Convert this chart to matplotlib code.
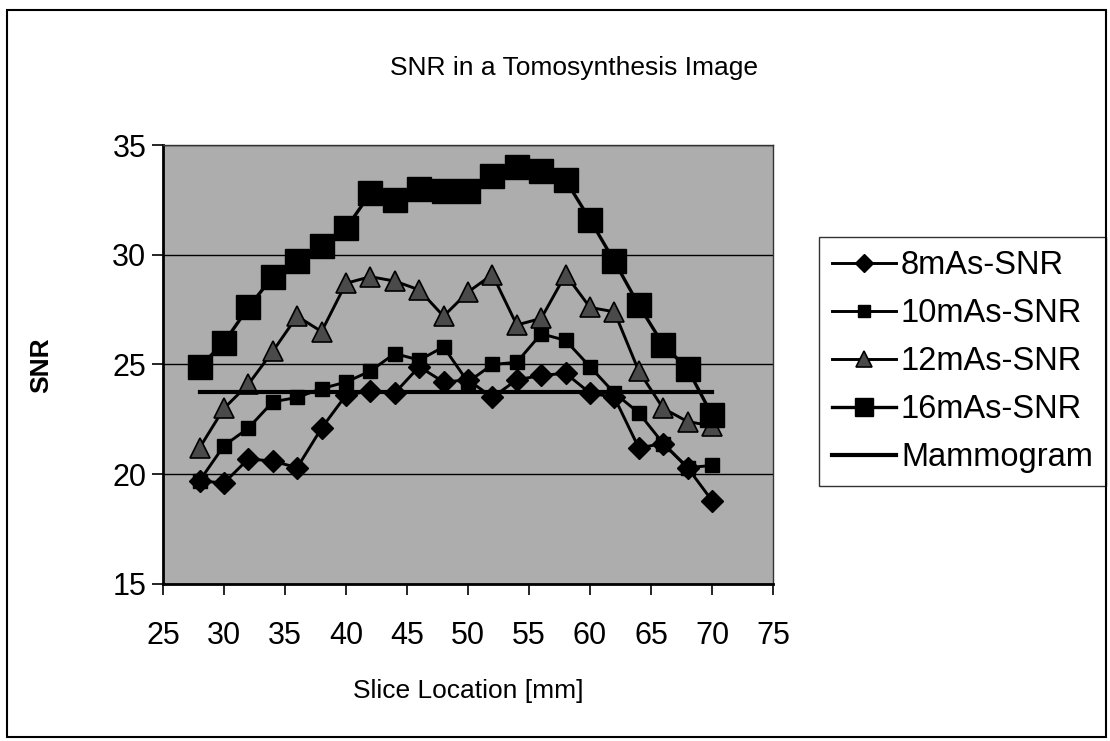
import matplotlib
matplotlib.use("Agg")
import matplotlib.pyplot as plt
from matplotlib.patches import Rectangle

plt.rcParams['font.family'] = ['Liberation Sans', 'DejaVu Sans']

# --- data ---
slice_mm = [28, 30, 32, 34, 36, 38, 40, 42, 44, 46, 48,
            50, 52, 54, 56, 58, 60, 62, 64, 66, 68, 70]
snr_8mas = [19.7, 19.6, 20.7, 20.6, 20.3, 22.1, 23.6, 23.8, 23.7, 24.9, 24.2,
            24.3, 23.5, 24.3, 24.5, 24.6, 23.7, 23.5, 21.2, 21.4, 20.3, 18.8]
snr_10mas = [19.7, 21.3, 22.1, 23.3, 23.5, 23.9, 24.2, 24.7, 25.5, 25.2, 25.8,
             24.2, 25.0, 25.1, 26.4, 26.1, 24.9, 23.7, 22.8, 21.4, 20.3, 20.4]
snr_12mas = [21.2, 23.0, 24.1, 25.6, 27.2, 26.5, 28.7, 29.0, 28.8, 28.4, 27.2,
             28.3, 29.1, 26.8, 27.1, 29.1, 27.6, 27.4, 24.7, 23.0, 22.4, 22.2]
snr_16mas = [24.9, 26.0, 27.6, 29.0, 29.7, 30.4, 31.2, 32.8, 32.5, 33.0, 32.9,
             32.9, 33.6, 34.0, 33.8, 33.4, 31.6, 29.7, 27.7, 25.9, 24.8, 22.7]
mammo_x = [28, 70]
mammo_snr = [23.75, 23.75]

fig = plt.figure(figsize=(11.1, 7.41), dpi=100)
fig.patch.set_facecolor("white")

# outer frame of the chart object
fig.patches.append(Rectangle((0.006, 0.006), 0.99, 0.981, transform=fig.transFigure,
                             fill=False, edgecolor="black", linewidth=1.5))

ax = fig.add_axes([0.1468, 0.2119, 0.5496, 0.5924])
ax.set_facecolor("#adadad")

ax.plot(slice_mm, snr_8mas, color="black", lw=2.1, marker="D", ms=11,
        mfc="black", mec="black", label="8mAs-SNR", zorder=3)
ax.plot(slice_mm, snr_10mas, color="black", lw=2.1, marker="s", ms=10,
        mfc="black", mec="black", label="10mAs-SNR", zorder=3)
ax.plot(slice_mm, snr_12mas, color="black", lw=2.1, marker="^", ms=14,
        mfc="#4a4a4a", mec="black", mew=1.2, label="12mAs-SNR", zorder=3)
ax.plot(slice_mm, snr_16mas, color="black", lw=2.4, marker="s", ms=17,
        mfc="black", mec="black", label="16mAs-SNR", zorder=3)
ax.plot(mammo_x, mammo_snr, color="black", lw=3, label="Mammogram", zorder=4)

ax.set_xlim(25, 75)
ax.set_ylim(15, 35)
ax.set_xticks(range(25, 80, 5))
ax.set_yticks(range(15, 40, 5))
ax.yaxis.grid(True, color="black", lw=1)
ax.set_axisbelow(True)

ax.tick_params(axis="both", direction="out", length=8, width=1.2,
               labelsize=22, colors="black")
ax.tick_params(axis="x", pad=19)
ax.tick_params(axis="y", pad=4)

for side in ["left", "bottom"]:
    ax.spines[side].set_linewidth(2)
for side in ["top", "right"]:
    ax.spines[side].set_linewidth(1)
    ax.spines[side].set_color("#333333")

ax.set_xlabel("Slice Location [mm]", fontsize=19, labelpad=20)
fig.text(0.037, 0.507, "SNR", rotation=90, fontsize=19, fontweight="bold",
         ha="center", va="center")
fig.text(0.517, 0.908, "SNR in a Tomosynthesis Image", fontsize=19,
         ha="center", va="center")

leg = ax.legend(loc="upper left", bbox_to_anchor=(1.076, 0.79), fontsize=23.5,
                frameon=True, fancybox=False, edgecolor="black",
                numpoints=1, markerscale=0.8, handlelength=1.95,
                handletextpad=0.15, labelspacing=0.52, borderpad=0.4,
                borderaxespad=0)
leg.get_frame().set_linewidth(1)

fig.savefig("out.png", dpi=100)
